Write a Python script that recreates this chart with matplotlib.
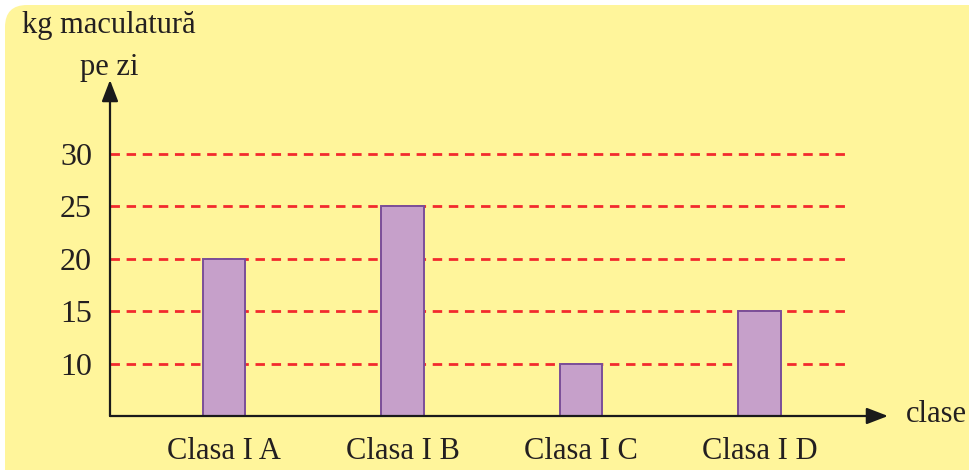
import matplotlib
matplotlib.use("Agg")
import matplotlib.pyplot as plt
from matplotlib.patches import FancyBboxPatch
from matplotlib.transforms import IdentityTransform

categories = ["Clasa I A", "Clasa I B", "Clasa I C", "Clasa I D"]
values = [20, 25, 10, 15]
yticks = [10, 15, 20, 25, 30]

W, H = 969, 470
fig = plt.figure(figsize=(W / 100, H / 100), dpi=100)
fig.patch.set_facecolor("white")

# yellow rounded panel (pixel coords, origin bottom-left)
panel = FancyBboxPatch((5, -30), 1000, H - 5 + 30,
                       boxstyle="round,pad=0,rounding_size=22",
                       transform=IdentityTransform(), facecolor="#FFF59B",
                       edgecolor="none", zorder=-10)
fig.patches.append(panel)

FONT = "Liberation Serif"
FS = 22

# axes placement in pixels
ax_l, ax_r, ax_b, ax_t = 110, 888, H - 416, H - 80
ax = fig.add_axes([ax_l / W, ax_b / H, (ax_r - ax_l) / W, (ax_t - ax_b) / H])
ax.set_zorder(5)
ax.set_facecolor("none")
ax.set_xlim(-0.639, 3.720)
ax.set_ylim(5, 37.07)
for s in ax.spines.values():
    s.set_visible(False)

# dashed gridlines
ax.hlines(yticks, -0.639, 3.479, colors="#F22A2E", linestyles=(0, (3.4, 2.4)),
          linewidth=2.0, zorder=1)

# bars
ax.bar(range(len(categories)), values, width=0.24, bottom=0,
       color="#C6A0CA", edgecolor="#7A4E98", linewidth=1.4, zorder=2)

# axes arrows
ax.annotate("", xy=(3.720, 5), xytext=(-0.639, 5),
            arrowprops=dict(arrowstyle="-|>,head_length=1.3,head_width=0.5",
                            color="#1a1a1a", lw=1.6, shrinkA=0, shrinkB=0),
            annotation_clip=False, zorder=3)
ax.annotate("", xy=(-0.639, 37.07), xytext=(-0.639, 5),
            arrowprops=dict(arrowstyle="-|>,head_length=1.3,head_width=0.5",
                            color="#1a1a1a", lw=1.6, shrinkA=0, shrinkB=0),
            annotation_clip=False, zorder=3)

ax.set_xticks(range(len(categories)))
ax.set_xticklabels(categories, fontfamily=FONT, fontsize=FS, color="#231f20")
ax.set_yticks(yticks)
ax.set_yticklabels([str(v) for v in yticks], fontfamily=FONT, fontsize=FS + 1,
                   color="#231f20")
ax.tick_params(axis="both", length=0)
ax.tick_params(axis="x", pad=15)
ax.tick_params(axis="y", pad=13)

fig.text(22 / W, 1 - 26 / H, "kg maculatură", fontfamily=FONT, fontsize=FS,
         color="#231f20", ha="left", va="center")
fig.text(80 / W, 1 - 68 / H, "pe zi", fontfamily=FONT, fontsize=FS,
         color="#231f20", ha="left", va="center")
fig.text(906 / W, 1 - 414 / H, "clase", fontfamily=FONT, fontsize=FS,
         color="#231f20", ha="left", va="center")

fig.savefig("out.png", dpi=100)
